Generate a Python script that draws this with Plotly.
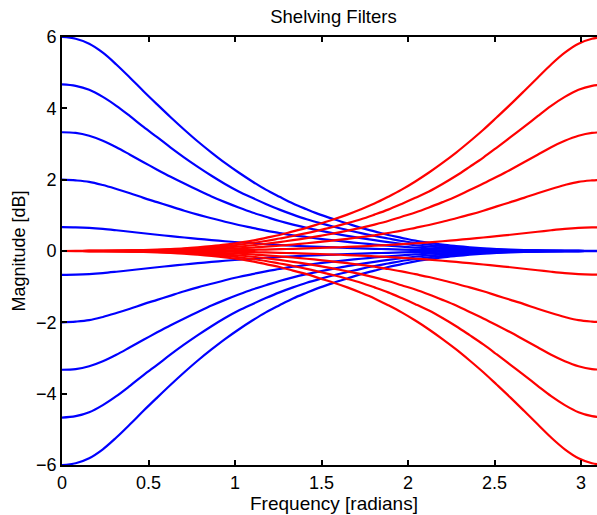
import plotly.graph_objects as go

# Frequency grid (radians), 0 .. pi in steps of pi/40
freq = [0.000, 0.079, 0.157, 0.236, 0.314, 0.393, 0.471, 0.550, 0.628, 0.707,
        0.785, 0.864, 0.942, 1.021, 1.100, 1.178, 1.257, 1.335, 1.414, 1.492,
        1.571, 1.649, 1.728, 1.806, 1.885, 1.963, 2.042, 2.121, 2.199, 2.278,
        2.356, 2.435, 2.513, 2.592, 2.670, 2.749, 2.827, 2.906, 2.985, 3.063, 3.142]

# Low-shelf magnitude responses (dB), one list per shelf gain
low_p600 = [6.00, 5.95, 5.81, 5.56, 5.23, 4.86, 4.48, 4.11, 3.75, 3.40,
            3.07, 2.76, 2.47, 2.20, 1.95, 1.72, 1.52, 1.33, 1.17, 1.02,
            0.89, 0.77, 0.65, 0.55, 0.45, 0.37, 0.29, 0.23, 0.18, 0.14,
            0.105, 0.075, 0.053, 0.036, 0.024, 0.015, 0.009, 0.005, 0.002, 0.001, 0.0]
low_p467 = [4.67, 4.63, 4.52, 4.32, 4.07, 3.78, 3.48, 3.19, 2.90, 2.62,
            2.36, 2.11, 1.88, 1.67, 1.49, 1.32, 1.16, 1.02, 0.89, 0.78,
            0.68, 0.59, 0.50, 0.42, 0.35, 0.28, 0.225, 0.176, 0.138, 0.106,
            0.082, 0.058, 0.041, 0.028, 0.019, 0.012, 0.007, 0.004, 0.001, 0.0, 0.0]
low_p333 = [3.33, 3.31, 3.23, 3.09, 2.91, 2.70, 2.49, 2.28, 2.08, 1.89,
            1.71, 1.53, 1.37, 1.22, 1.08, 0.96, 0.84, 0.74, 0.65, 0.57,
            0.495, 0.425, 0.361, 0.303, 0.25, 0.203, 0.161, 0.126, 0.098, 0.076,
            0.058, 0.042, 0.029, 0.020, 0.013, 0.008, 0.005, 0.003, 0.001, 0.0, 0.0]
low_p200 = [2.00, 1.98, 1.94, 1.85, 1.74, 1.62, 1.49, 1.37, 1.25, 1.13,
            1.02, 0.92, 0.82, 0.73, 0.65, 0.57, 0.505, 0.44, 0.39, 0.34,
            0.297, 0.255, 0.217, 0.182, 0.15, 0.122, 0.097, 0.076, 0.059, 0.046,
            0.035, 0.025, 0.018, 0.012, 0.008, 0.005, 0.003, 0.002, 0.001, 0.0, 0.0]
low_p067 = [0.667, 0.661, 0.646, 0.618, 0.581, 0.540, 0.498, 0.456, 0.416, 0.378,
            0.341, 0.307, 0.274, 0.244, 0.217, 0.191, 0.168, 0.148, 0.129, 0.113,
            0.099, 0.085, 0.072, 0.061, 0.050, 0.041, 0.032, 0.025, 0.020, 0.015,
            0.012, 0.008, 0.006, 0.004, 0.003, 0.002, 0.001, 0.0005, 0.0, 0.0, 0.0]
low_m067 = [-0.667, -0.661, -0.646, -0.618, -0.581, -0.540, -0.498, -0.456, -0.416, -0.378,
            -0.341, -0.307, -0.274, -0.244, -0.217, -0.191, -0.168, -0.148, -0.129, -0.113,
            -0.099, -0.085, -0.072, -0.061, -0.050, -0.041, -0.032, -0.025, -0.020, -0.015,
            -0.012, -0.008, -0.006, -0.004, -0.003, -0.002, -0.001, -0.0005, 0.0, 0.0, 0.0]
low_m200 = [-2.00, -1.98, -1.94, -1.85, -1.74, -1.62, -1.49, -1.37, -1.25, -1.13,
            -1.02, -0.92, -0.82, -0.73, -0.65, -0.57, -0.505, -0.44, -0.39, -0.34,
            -0.297, -0.255, -0.217, -0.182, -0.15, -0.122, -0.097, -0.076, -0.059, -0.046,
            -0.035, -0.025, -0.018, -0.012, -0.008, -0.005, -0.003, -0.002, -0.001, 0.0, 0.0]
low_m333 = [-3.33, -3.31, -3.23, -3.09, -2.91, -2.70, -2.49, -2.28, -2.08, -1.89,
            -1.71, -1.53, -1.37, -1.22, -1.08, -0.96, -0.84, -0.74, -0.65, -0.57,
            -0.495, -0.425, -0.361, -0.303, -0.25, -0.203, -0.161, -0.126, -0.098, -0.076,
            -0.058, -0.042, -0.029, -0.020, -0.013, -0.008, -0.005, -0.003, -0.001, 0.0, 0.0]
low_m467 = [-4.67, -4.63, -4.52, -4.32, -4.07, -3.78, -3.48, -3.19, -2.90, -2.62,
            -2.36, -2.11, -1.88, -1.67, -1.49, -1.32, -1.16, -1.02, -0.89, -0.78,
            -0.68, -0.59, -0.50, -0.42, -0.35, -0.28, -0.225, -0.176, -0.138, -0.106,
            -0.082, -0.058, -0.041, -0.028, -0.019, -0.012, -0.007, -0.004, -0.001, 0.0, 0.0]
low_m600 = [-6.00, -5.95, -5.81, -5.56, -5.23, -4.86, -4.48, -4.11, -3.75, -3.40,
            -3.07, -2.76, -2.47, -2.20, -1.95, -1.72, -1.52, -1.33, -1.17, -1.02,
            -0.89, -0.77, -0.65, -0.55, -0.45, -0.37, -0.29, -0.23, -0.18, -0.14,
            -0.105, -0.075, -0.053, -0.036, -0.024, -0.015, -0.009, -0.005, -0.002, -0.001, 0.0]

# High-shelf magnitude responses (dB)
high_p600 = [0.0, 0.001, 0.002, 0.005, 0.009, 0.015, 0.024, 0.036, 0.053, 0.075,
             0.105, 0.14, 0.18, 0.23, 0.29, 0.37, 0.45, 0.55, 0.65, 0.77,
             0.89, 1.02, 1.17, 1.33, 1.52, 1.72, 1.95, 2.20, 2.47, 2.76,
             3.07, 3.40, 3.75, 4.11, 4.48, 4.86, 5.23, 5.56, 5.81, 5.95, 6.00]
high_p467 = [0.0, 0.0, 0.001, 0.004, 0.007, 0.012, 0.019, 0.028, 0.041, 0.058,
             0.082, 0.106, 0.138, 0.176, 0.225, 0.28, 0.35, 0.42, 0.50, 0.59,
             0.68, 0.78, 0.89, 1.02, 1.16, 1.32, 1.49, 1.67, 1.88, 2.11,
             2.36, 2.62, 2.90, 3.19, 3.48, 3.78, 4.07, 4.32, 4.52, 4.63, 4.67]
high_p333 = [0.0, 0.0, 0.001, 0.003, 0.005, 0.008, 0.013, 0.020, 0.029, 0.042,
             0.058, 0.076, 0.098, 0.126, 0.161, 0.203, 0.25, 0.303, 0.361, 0.425,
             0.495, 0.57, 0.65, 0.74, 0.84, 0.96, 1.08, 1.22, 1.37, 1.53,
             1.71, 1.89, 2.08, 2.28, 2.49, 2.70, 2.91, 3.09, 3.23, 3.31, 3.33]
high_p200 = [0.0, 0.0, 0.001, 0.002, 0.003, 0.005, 0.008, 0.012, 0.018, 0.025,
             0.035, 0.046, 0.059, 0.076, 0.097, 0.122, 0.15, 0.182, 0.217, 0.255,
             0.297, 0.34, 0.39, 0.44, 0.505, 0.57, 0.65, 0.73, 0.82, 0.92,
             1.02, 1.13, 1.25, 1.37, 1.49, 1.62, 1.74, 1.85, 1.94, 1.98, 2.00]
high_p067 = [0.0, 0.0, 0.0, 0.0005, 0.001, 0.002, 0.003, 0.004, 0.006, 0.008,
             0.012, 0.015, 0.020, 0.025, 0.032, 0.041, 0.050, 0.061, 0.072, 0.085,
             0.099, 0.113, 0.129, 0.148, 0.168, 0.191, 0.217, 0.244, 0.274, 0.307,
             0.341, 0.378, 0.416, 0.456, 0.498, 0.540, 0.581, 0.618, 0.646, 0.661, 0.667]
high_m067 = [0.0, 0.0, 0.0, -0.0005, -0.001, -0.002, -0.003, -0.004, -0.006, -0.008,
             -0.012, -0.015, -0.020, -0.025, -0.032, -0.041, -0.050, -0.061, -0.072, -0.085,
             -0.099, -0.113, -0.129, -0.148, -0.168, -0.191, -0.217, -0.244, -0.274, -0.307,
             -0.341, -0.378, -0.416, -0.456, -0.498, -0.540, -0.581, -0.618, -0.646, -0.661, -0.667]
high_m200 = [0.0, 0.0, -0.001, -0.002, -0.003, -0.005, -0.008, -0.012, -0.018, -0.025,
             -0.035, -0.046, -0.059, -0.076, -0.097, -0.122, -0.15, -0.182, -0.217, -0.255,
             -0.297, -0.34, -0.39, -0.44, -0.505, -0.57, -0.65, -0.73, -0.82, -0.92,
             -1.02, -1.13, -1.25, -1.37, -1.49, -1.62, -1.74, -1.85, -1.94, -1.98, -2.00]
high_m333 = [0.0, 0.0, -0.001, -0.003, -0.005, -0.008, -0.013, -0.020, -0.029, -0.042,
             -0.058, -0.076, -0.098, -0.126, -0.161, -0.203, -0.25, -0.303, -0.361, -0.425,
             -0.495, -0.57, -0.65, -0.74, -0.84, -0.96, -1.08, -1.22, -1.37, -1.53,
             -1.71, -1.89, -2.08, -2.28, -2.49, -2.70, -2.91, -3.09, -3.23, -3.31, -3.33]
high_m467 = [0.0, 0.0, -0.001, -0.004, -0.007, -0.012, -0.019, -0.028, -0.041, -0.058,
             -0.082, -0.106, -0.138, -0.176, -0.225, -0.28, -0.35, -0.42, -0.50, -0.59,
             -0.68, -0.78, -0.89, -1.02, -1.16, -1.32, -1.49, -1.67, -1.88, -2.11,
             -2.36, -2.62, -2.90, -3.19, -3.48, -3.78, -4.07, -4.32, -4.52, -4.63, -4.67]
high_m600 = [0.0, -0.001, -0.002, -0.005, -0.009, -0.015, -0.024, -0.036, -0.053, -0.075,
             -0.105, -0.14, -0.18, -0.23, -0.29, -0.37, -0.45, -0.55, -0.65, -0.77,
             -0.89, -1.02, -1.17, -1.33, -1.52, -1.72, -1.95, -2.20, -2.47, -2.76,
             -3.07, -3.40, -3.75, -4.11, -4.48, -4.86, -5.23, -5.56, -5.81, -5.95, -6.00]

x_ticks = [0, 0.5, 1, 1.5, 2, 2.5, 3]
x_ticktext = ["0", "0.5", "1", "1.5", "2", "2.5", "3"]
y_ticks = [-6, -4, -2, 0, 2, 4, 6]

low_shelves = [low_p600, low_p467, low_p333, low_p200, low_p067,
               low_m067, low_m200, low_m333, low_m467, low_m600]
high_shelves = [high_p600, high_p467, high_p333, high_p200, high_p067,
                high_m067, high_m200, high_m333, high_m467, high_m600]

FONT = "Liberation Sans, Arial, Helvetica, sans-serif"

fig = go.Figure()
for resp in low_shelves:
    fig.add_trace(go.Scatter(x=freq, y=resp, mode="lines",
                             line=dict(color="#0000ff", width=2.2, shape="spline", smoothing=1.0),
                             hoverinfo="skip"))
for resp in high_shelves:
    fig.add_trace(go.Scatter(x=freq, y=resp, mode="lines",
                             line=dict(color="#ff0000", width=2.2, shape="spline", smoothing=1.0),
                             hoverinfo="skip"))

fig.update_layout(
    width=597, height=515,
    margin=dict(l=62, r=0, t=37, b=50),
    paper_bgcolor="white", plot_bgcolor="white",
    showlegend=False,
    font=dict(family=FONT, size=18, color="black"),
    title=dict(text="Shelving Filters", x=0.5586, xref="container", xanchor="center",
               y=1 - 17 / 515, yref="container", yanchor="middle",
               font=dict(family=FONT, size=18.5, color="black")),
    annotations=[dict(text="Frequency [radians]", xref="paper", yref="paper",
                      x=0.5084, y=-0.091, xanchor="center", yanchor="middle",
                      showarrow=False, font=dict(family=FONT, size=19, color="black"))],
)
fig.update_xaxes(
    range=[0, 3.092], tickvals=x_ticks, ticktext=x_ticktext,
    ticks="inside", ticklen=5, tickwidth=1.5, tickcolor="black",
    showline=True, linecolor="black", linewidth=1.8, mirror="ticks",
    showgrid=False, zeroline=False,
    tickfont=dict(family=FONT, size=18, color="black"),
)
fig.update_yaxes(
    range=[-6, 6], tickvals=y_ticks,
    ticks="inside", ticklen=5, tickwidth=1.5, tickcolor="black",
    showline=True, linecolor="black", linewidth=1.8, mirror=False,
    showgrid=False, zeroline=False,
    tickfont=dict(family=FONT, size=18, color="black"),
    title=dict(text="Magnitude [dB]", font=dict(family=FONT, size=18, color="black"),
               standoff=6),
)

fig.write_html("out.html")
